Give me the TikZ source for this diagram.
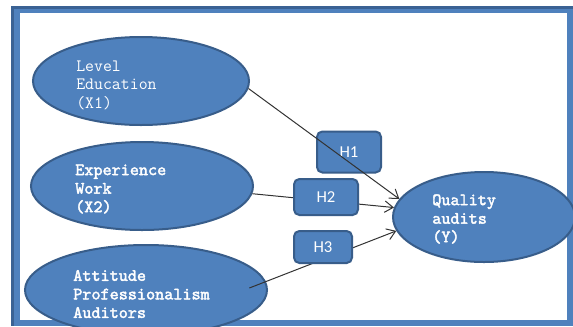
\documentclass[tikz,border=0pt]{standalone}
\usepackage{fontspec}
\newfontfamily\hypfont{Carlito}
\newfontfamily\boldmono{lmmono10-regular.otf}[FakeBold=2.2]
\usetikzlibrary{arrows.meta,shapes.geometric}
\definecolor{cblue}{HTML}{4F81BD}
\definecolor{cedge}{HTML}{385D8A}
\definecolor{cframe}{HTML}{3A6294}
\tikzset{
  construct/.style={ellipse, draw=cedge, line width=1.5pt, fill=cblue, inner sep=0pt},
  ctext/.style={anchor=west, align=left, text=white, inner sep=0pt,
    font=\ttfamily\fontsize{13}{13.9}\selectfont},
  ctextbf/.style={ctext, font=\boldmono\fontsize{13}{13.9}\selectfont},
  hyp/.style={draw=cedge, line width=1.5pt, fill=cblue, rounded corners=4pt,
    inner sep=0pt, text=white, font=\hypfont\fontsize{12.5}{14}\selectfont},
  patharrow/.style={-{Straight Barb[length=2.2mm,width=3mm]}, line width=0.75pt, draw=black!80}
}

\begin{document}
\begin{tikzpicture}[x=0.75pt, y=-0.75pt]
    \clip (0,0) rectangle (573,326);
    % frame
    \fill[cframe] (11,6) rectangle (573,326);
    \fill[cblue] (14,9) rectangle (573,326);
    \fill[white] (20,13) rectangle (567,320);

    % constructs
    \node[construct, minimum width=162pt, minimum height=66pt] (lev) at (141,81) {};
    \node[construct, minimum width=166.5pt, minimum height=66pt] (exp) at (142,186) {};
    \node[construct, minimum width=181.5pt, minimum height=67.5pt] (att) at (146,290) {};
    \node[construct, minimum width=136.5pt, minimum height=67.5pt] (qual) at (484,217) {};

    \node[ctext] (levt) at (76,85) {Level\\Education\\(X1)};
    \node[ctextbf] (expt) at (75,189) {Experience\\Work\\(X2)};
    \node[ctextbf] (attt) at (73,294) {Attitude\\Professionalism\\Auditors};
    \node[ctextbf] (qualt) at (432,219) {Quality\\audits\\(Y)};

    % paths behind the hypothesis boxes
    \draw[patharrow] (exp.-4) -- (qual.174);
    \draw[patharrow] ([xshift=-14pt,yshift=1.5pt]att.east) -- (qual.189);

    \node[hyp, minimum width=48pt, minimum height=30.75pt] (h1) at (349,152) {H1};
    \node[hyp, minimum width=48pt, minimum height=27pt] (h2) at (326,197) {H2};
    \node[hyp, minimum width=43.5pt, minimum height=24pt] (h3) at (323,247) {H3};

    \draw[patharrow] (lev.-4) -- (qual.168);
\end{tikzpicture}
\end{document}
